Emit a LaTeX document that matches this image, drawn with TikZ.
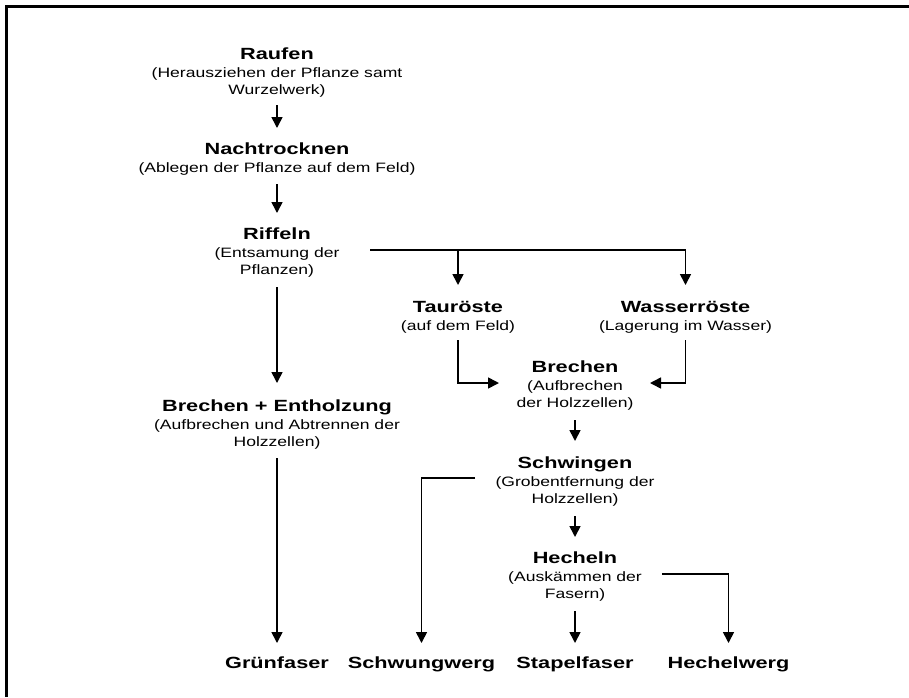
\documentclass[tikz,border=0pt]{standalone}
\usepackage{fontspec}
\newfontfamily\subfont{Liberation Sans}[FakeStretch=1.29]
\newfontfamily\titlefont{Liberation Sans}[FakeStretch=1.34]
\usetikzlibrary{arrows.meta}
\newcommand\stp[2]{\begin{tabular}[t]{@{}c@{}}{\titlefont\bfseries\fontsize{16.2}{17}\selectfont #1}\\[1pt] #2\end{tabular}}
\newcommand\fin[1]{\begin{tabular}[t]{@{}c@{}}{\titlefont\bfseries\fontsize{16.2}{17}\selectfont #1}\end{tabular}}
\begin{document}
\begin{tikzpicture}[x=1pt,y=-1pt,
  stepnode/.style={anchor=base, inner sep=0pt, outer sep=0pt, font=\subfont\fontsize{13.6}{17}\selectfont},
  conn/.style={line width=1.6pt, -{Triangle[length=11pt,width=11pt]}},
  frame/.style={line width=3pt}]
\useasboundingbox (0,0) rectangle (909,697);
\draw[frame] (909,6) -- (6.7,6) -- (6.7,697);

\node[stepnode] (raufen) at (277,59) {\stp{Raufen}{(Herausziehen der Pflanze samt\\Wurzelwerk)}};
\node[stepnode] (nacht) at (277,154) {\stp{Nachtrocknen}{(Ablegen der Pflanze auf dem Feld)}};
\node[stepnode] (riffeln) at (277,239) {\stp{Riffeln}{(Entsamung der\\Pflanzen)}};
\node[stepnode] (tau) at (458,312) {\stp{Tauröste}{(auf dem Feld)}};
\node[stepnode] (wasser) at (685.5,312) {\stp{Wasserröste}{(Lagerung im Wasser)}};
\node[stepnode] (brechen) at (575,372.5) {\stp{Brechen}{(Aufbrechen\\der Holzzellen)}};
\node[stepnode] (brent) at (277,411) {\stp{Brechen + Entholzung}{(Aufbrechen und Abtrennen der\\Holzzellen)}};
\node[stepnode] (schwingen) at (575,468) {\stp{Schwingen}{(Grobentfernung der\\Holzzellen)}};
\node[stepnode] (hecheln) at (575,563) {\stp{Hecheln}{(Auskämmen der\\Fasern)}};
\node[stepnode] (gruen) at (277,668.5) {\fin{Grünfaser}};
\node[stepnode] (schwung) at (421.5,668.5) {\fin{Schwungwerg}};
\node[stepnode] (stapel) at (575,668.5) {\fin{Stapelfaser}};
\node[stepnode] (hechelw) at (728.5,668.5) {\fin{Hechelwerg}};

\draw[conn, shorten <=5.9pt, shorten >=14.1pt] (raufen.south) -- (nacht.north);
\draw[conn, shorten <=6.9pt, shorten >=14.1pt] (nacht.south) -- (riffeln.north);
\draw[conn, shorten <=7.9pt, shorten >=16.1pt] (riffeln.south) -- (brent.north);
\draw[conn, shorten <=6.9pt, shorten >=13.6pt] (brent.south) -- (gruen.north);
\draw[conn, shorten <=30.6pt, shorten >=15.1pt] ([yshift=3.1pt]riffeln.east) -| (tau.north);
\draw[conn, shorten <=30.6pt, shorten >=15.1pt] ([yshift=3.1pt]riffeln.east) -| (wasser.north);
\draw[conn, shorten <=4.9pt, shorten >=17.5pt] (tau.south) |- ([yshift=3.6pt]brechen.west);
\draw[conn, shorten <=4.9pt, shorten >=16.5pt] (wasser.south) |- ([yshift=3.6pt]brechen.east);
\draw[conn, shorten <=7.4pt, shorten >=15.1pt] (brechen.south) -- (schwingen.north);
\draw[conn, shorten <=7.9pt, shorten >=14.1pt] (schwingen.south) -- (hecheln.north);
\draw[conn, shorten <=7.9pt, shorten >=13.6pt] (hecheln.south) -- (stapel.north);
\draw[conn, shorten <=20.5pt, shorten >=13.6pt] ([yshift=4.1pt]schwingen.west) -| (schwung.north);
\draw[conn, shorten <=20.2pt, shorten >=13.6pt] ([yshift=3.1pt]hecheln.east) -| (hechelw.north);
\end{tikzpicture}
\end{document}
